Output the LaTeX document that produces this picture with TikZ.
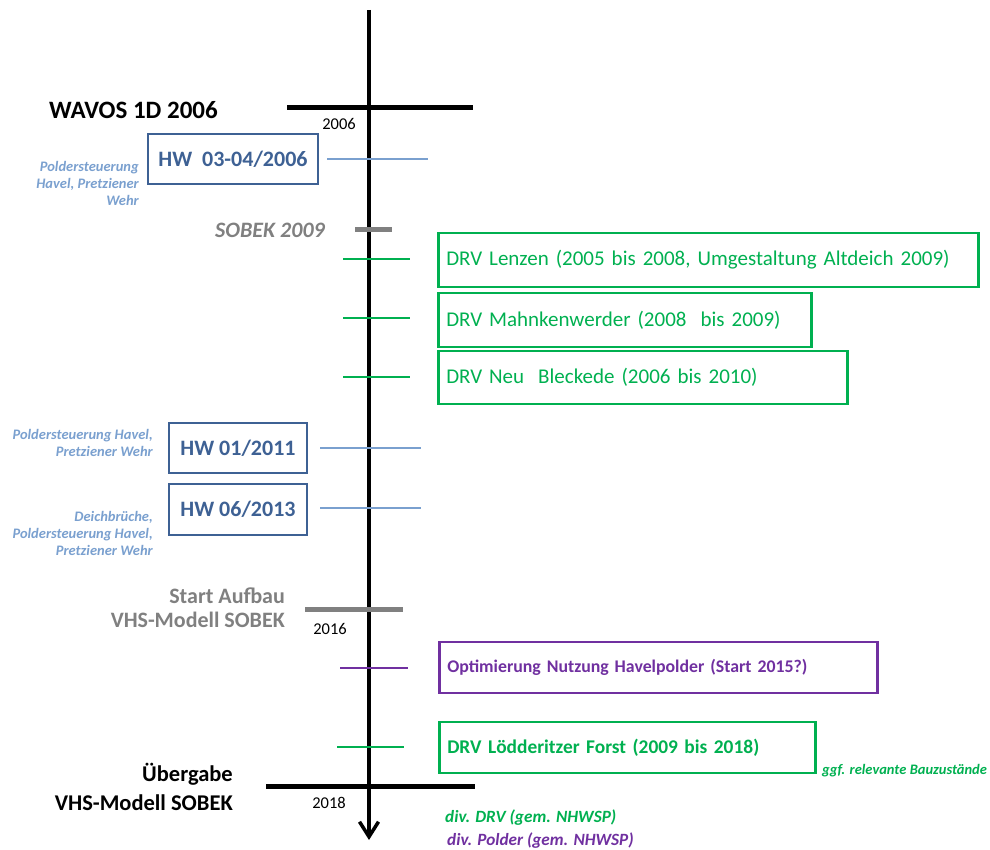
\documentclass[tikz,border=0pt]{standalone}
\usepackage{fontspec}
\setmainfont{Carlito}
\usetikzlibrary{arrows.meta}
\definecolor{hwdark}{HTML}{3E6194}
\definecolor{hwlight}{HTML}{7AA0CF}
\definecolor{drvgreen}{HTML}{00B050}
\definecolor{polpurple}{HTML}{7030A0}
\definecolor{sgray}{HTML}{808080}
\newcommand{\fs}[2]{\fontsize{#1}{#2}\selectfont}
\tikzset{
  hwbox/.style={draw=hwdark, line width=2.5pt, text=hwdark, font=\fs{22}{26}\bfseries, inner sep=0pt},
  drvbox/.style={draw=drvgreen, line width=2.5pt, text=drvgreen, font=\fs{21}{25}, inner xsep=8pt, inner ysep=0pt, align=left, anchor=west},
  drvboldbox/.style={drvbox, font=\fs{19.4}{23}\bfseries},
  polbox/.style={drvbox, draw=polpurple, text=polpurple, font=\fs{17.8}{21}\bfseries},
  note/.style={text=hwlight, font=\fs{14.5}{17}\bfseries\itshape, align=right, anchor=east, inner sep=0pt},
  yearlbl/.style={font=\fs{16.5}{19}, inner sep=0pt},
  mainlbl/.style={font=\fs{22.5}{29}\bfseries, inner sep=0pt},
  graylbl/.style={text=sgray, font=\fs{22}{24}\bfseries, inner sep=0pt},
  hwtick/.style={draw=hwlight, line width=2.5pt},
  drvtick/.style={draw=drvgreen, line width=2pt},
  poltick/.style={draw=polpurple, line width=2pt},
  graytick/.style={draw=sgray, line width=5pt},
  blacktick/.style={draw=black, line width=5pt},
}
\begin{document}
\begin{tikzpicture}[x=1pt,y=-1pt]
\useasboundingbox (0,0) rectangle (990,850);
% main axis
\coordinate (axtop) at (369,10);
\coordinate (axbot) at (369,840);
\draw[line width=4pt, -{Straight Barb[length=15pt,width=19pt,line width=3.5pt]}] (axtop) -- (axbot);

% 2006
\coordinate (t06a) at (287,108); \coordinate (t06b) at (473,108);
\draw[blacktick] (t06a) -- (t06b);
\node[mainlbl, font=\fs{25}{29}\bfseries, anchor=east] (wavos) at (218,110) {WAVOS 1D 2006};
\node[yearlbl] (y2006) at (339,124) {2006};

% HW 03-04/2006
\node[hwbox, minimum width=170pt, minimum height=50pt] (hw06) at (233,159) {HW\ \ 03-04/2006};
\coordinate (h1a) at (327,159); \coordinate (h1b) at (428,159);
\draw[hwtick] (h1a) -- (h1b);
\node[note] (n06) at (139,183) {Poldersteuerung\\Havel, Pretziener\\Wehr};

% SOBEK 2009
\node[text=sgray, font=\fs{22}{26}\bfseries\itshape, anchor=east, inner sep=0pt] (sobek) at (325,230) {SOBEK 2009};
\coordinate (s9a) at (355,230); \coordinate (s9b) at (392,230);
\draw[graytick] (s9a) -- (s9b);

% DRV boxes
\node[drvbox, minimum width=540pt, minimum height=54pt, text width=524pt] (lenzen) at (437,260) {DRV Lenzen (2005 bis 2008, Umgestaltung Altdeich 2009)};
\coordinate (l1a) at (343,259); \coordinate (l1b) at (410,259);
\draw[drvtick] (l1a) -- (l1b);
\node[drvbox, minimum width=373pt, minimum height=54pt, text width=357pt] (mahnk) at (437,320) {DRV Mahnkenwerder (2008\ \ bis 2009)};
\coordinate (m1a) at (343,318); \coordinate (m1b) at (410,318);
\draw[drvtick] (m1a) -- (m1b);
\node[drvbox, minimum width=409pt, minimum height=53pt, text width=393pt] (bleck) at (437,377.5) {DRV Neu\ \ Bleckede (2006 bis 2010)};
\coordinate (b1a) at (343,377); \coordinate (b1b) at (410,377);
\draw[drvtick] (b1a) -- (b1b);

% HW 01/2011
\node[hwbox, minimum width=138pt, minimum height=50pt] (hw11) at (238,448) {HW 01/2011};
\coordinate (h2a) at (320,448); \coordinate (h2b) at (421,448);
\draw[hwtick] (h2a) -- (h2b);
\node[note] (n11) at (153,443) {Poldersteuerung Havel,\\Pretziener Wehr};

% HW 06/2013
\node[hwbox, minimum width=138pt, minimum height=51pt] (hw13) at (238,509.5) {HW 06/2013};
\coordinate (h3a) at (320,508); \coordinate (h3b) at (421,508);
\draw[hwtick] (h3a) -- (h3b);
\node[note] (n13) at (153,533) {Deichbrüche,\\Poldersteuerung Havel,\\Pretziener Wehr};

% 2016
\node[graylbl, align=right, anchor=east] (start) at (285,608) {Start Aufbau\\VHS-Modell SOBEK};
\coordinate (t16a) at (305,609); \coordinate (t16b) at (403,609);
\draw[graytick] (t16a) -- (t16b);
\node[yearlbl] (y2016) at (330,629) {2016};

% Optimierung
\node[polbox, minimum width=438pt, minimum height=51pt, text width=422pt] (opt) at (438,667.5) {Optimierung Nutzung Havelpolder (Start 2015?)};
\coordinate (p1a) at (340,668); \coordinate (p1b) at (408,668);
\draw[poltick] (p1a) -- (p1b);

% Lödderitzer
\node[drvboldbox, minimum width=376pt, minimum height=51pt, text width=360pt] (loed) at (438,747.5) {DRV Lödderitzer Forst (2009 bis 2018)};
\coordinate (d1a) at (337,747); \coordinate (d1b) at (404,747);
\draw[drvtick] (d1a) -- (d1b);
\node[text=drvgreen, font=\fs{14.5}{17}\bfseries\itshape, anchor=west, inner sep=0pt] (ggf) at (822,771) {ggf. relevante Bauzustände};

% 2018
\coordinate (t18a) at (266,786); \coordinate (t18b) at (475,786);
\draw[blacktick] (t18a) -- (t18b);
\node[mainlbl, align=right, anchor=east] (ueber) at (233,786.5) {Übergabe\\VHS-Modell SOBEK};
\node[yearlbl] (y2018) at (329,803) {2018};

\node[text=drvgreen, font=\fs{17.2}{20}\bfseries\itshape, anchor=west, inner sep=0pt] (divdrv) at (445,818) {div. DRV (gem. NHWSP)};
\node[text=polpurple, font=\fs{17.2}{20}\bfseries\itshape, anchor=west, inner sep=0pt] (divpol) at (447,841) {div. Polder (gem. NHWSP)};
\end{tikzpicture}
\end{document}
